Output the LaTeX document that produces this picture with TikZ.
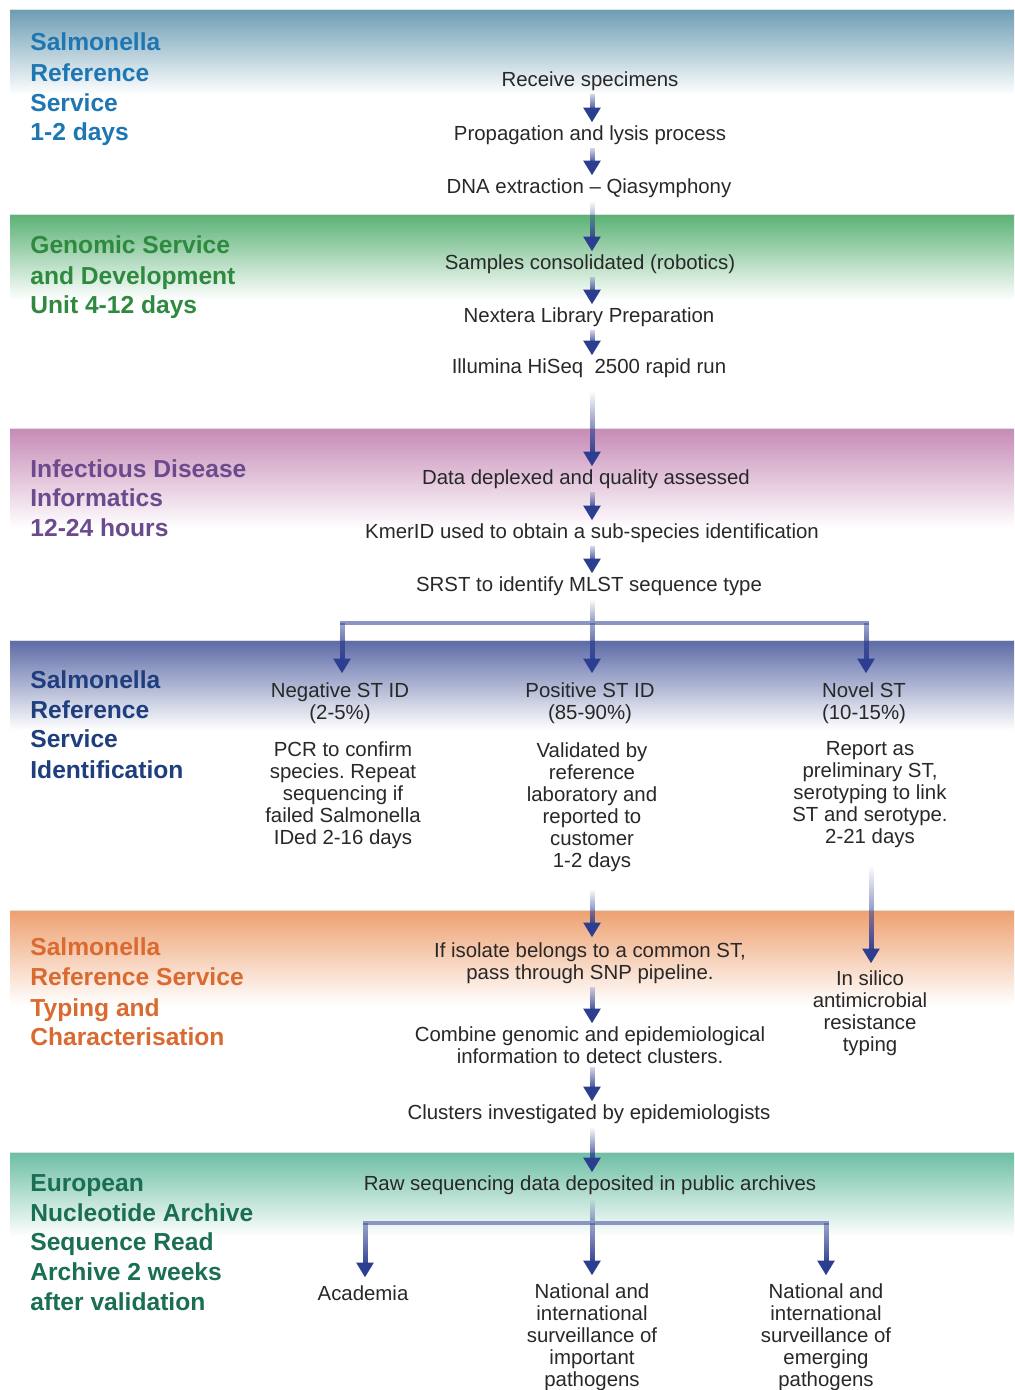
\documentclass[tikz,border=0pt]{standalone}
\usepackage{fontspec}
\setmainfont{Liberation Sans}
\usetikzlibrary{fadings,calc}
\frenchspacing
\definecolor{ablue}{RGB}{44,62,144}
\definecolor{bodytext}{RGB}{40,40,40}
\definecolor{bandA}{RGB}{110,158,180}
\definecolor{bandB}{RGB}{92,178,118}
\definecolor{bandC}{RGB}{198,138,182}
\definecolor{bandD}{RGB}{92,106,166}
\definecolor{bandE}{RGB}{238,160,112}
\definecolor{bandF}{RGB}{108,190,164}
\definecolor{hA}{RGB}{30,118,178}
\definecolor{hB}{RGB}{45,138,62}
\definecolor{hC}{RGB}{108,74,142}
\definecolor{hD}{RGB}{30,62,126}
\definecolor{hE}{RGB}{218,106,48}
\definecolor{hF}{RGB}{26,110,84}
\tikzfading[name=arrfade, top color=transparent!100, bottom color=transparent!0]
\tikzfading[name=shortfade, top color=transparent!80, bottom color=transparent!0]
\tikzfading[name=legfade, top color=transparent!55, bottom color=transparent!0]
\tikzfading[name=stemfade, top color=transparent!100, bottom color=transparent!45]
\newcommand{\farrow}[3][arrfade]{%
  \fill[ablue, path fading=#1] let \p1=(#2), \p2=(#3) in (\x1-1.25pt,\y1) rectangle (\x1+1.25pt,\y2+5pt);
  \fill[ablue] let \p1=(#2), \p2=(#3) in (\x1,\y2) -- (\x1-4.4pt,\y2+7.2pt) -- (\x1+4.4pt,\y2+7.2pt) -- cycle;
}
\newcommand{\fstem}[2]{%
  \fill[ablue, path fading=stemfade] let \p1=(#1), \p2=(#2) in (\x1-1.25pt,\y1) rectangle (\x1+1.25pt,\y2);
}
\begin{document}
\begin{tikzpicture}[x=0.5pt,y=-0.5pt,
  body/.style={font=\fontsize{10.2}{11}\selectfont, text=bodytext, inner sep=1.5pt, align=center},
  head/.style={font=\fontsize{12.3}{15}\selectfont\bfseries, inner sep=0pt, anchor=base west},
  bar/.style={ablue!55, line width=2.4pt}]
\useasboundingbox (0,0) rectangle (1014,1390);
\fill[white] (0,0) rectangle (1014,1390);
% bands
\foreach \t/\h/\c in {10/85/bandA, 215/85/bandB, 428/100/bandC, 640/90/bandD, 910/95/bandE, 1152/85/bandF} {
  \shade[top color=\c, bottom color=white] (10,\t) rectangle (1014,\t+\h);
  \draw[gray!25, line width=0.5pt] (10,\t) -- (1014,\t);
}
% headers
\node[head, text=hA] (hAa) at (30,51) {Salmonella};
\node[head, text=hA] (hAb) at (30,82) {Reference};
\node[head, text=hA] (hAc) at (30,112) {Service};
\node[head, text=hA] (hAd) at (30,141) {1-2 days};
\node[head, text=hB] (hBa) at (30,254) {Genomic Service};
\node[head, text=hB] (hBb) at (30,285) {and Development};
\node[head, text=hB] (hBc) at (30,314) {Unit 4-12 days};
\node[head, text=hC] (hCa) at (30,477) {Infectious Disease};
\node[head, text=hC] (hCb) at (30,506) {Informatics};
\node[head, text=hC] (hCc) at (30,536) {12-24 hours};
\node[head, text=hD] (hDa) at (30,688) {Salmonella};
\node[head, text=hD] (hDb) at (30,718) {Reference};
\node[head, text=hD] (hDc) at (30,747) {Service};
\node[head, text=hD] (hDd) at (30,778) {Identification};
\node[head, text=hE] (hEa) at (30,955) {Salmonella};
\node[head, text=hE] (hEb) at (30,985) {Reference Service};
\node[head, text=hE] (hEc) at (30,1016) {Typing and};
\node[head, text=hE] (hEd) at (30,1045) {Characterisation};
\node[head, text=hF] (hFa) at (30,1191) {European};
\node[head, text=hF] (hFb) at (30,1221) {Nucleotide Archive};
\node[head, text=hF] (hFc) at (30,1250) {Sequence Read};
\node[head, text=hF] (hFd) at (30,1280) {Archive 2 weeks};
\node[head, text=hF] (hFe) at (30,1310) {after validation};
% body
\node[body] (r1) at (590,81) {Receive specimens};
\node[body] (r2) at (590,135) {Propagation and lysis process};
\node[body] (r3) at (589,188) {DNA extraction -- Qiasymphony};
\node[body] (g1) at (590,264) {Samples consolidated (robotics)};
\node[body] (g2) at (589,317) {Nextera Library Preparation};
\node[body] (g3) at (589,368) {Illumina HiSeq \ 2500 rapid run};
\node[body] (i1) at (586,479) {Data deplexed and quality assessed};
\node[body] (i2) at (592,533) {KmerID used to obtain a sub-species identification};
\node[body] (i3) at (589,586) {SRST to identify MLST sequence type};
\node[body] (negh) at (340,703) {Negative ST ID\\(2-5\%)};
\node[body] (negd) at (343,795) {PCR to confirm\\species. Repeat\\sequencing if\\failed Salmonella\\IDed 2-16 days};
\node[body] (posh) at (590,703) {Positive ST ID\\(85-90\%)};
\node[body] (posd) at (592,807) {Validated by\\reference\\laboratory and\\reported to\\customer\\1-2 days};
\node[body] (novh) at (864,703) {Novel ST\\(10-15\%)};
\node[body] (novd) at (870,795) {Report as\\preliminary ST,\\serotyping to link\\ST and serotype.\\2-21 days};
\node[body] (o1) at (590,963) {If isolate belongs to a common ST,\\pass through SNP pipeline.};
\node[body] (o2) at (590,1045) {Combine genomic and epidemiological\\information to detect clusters.};
\node[body] (o3) at (589,1114) {Clusters investigated by epidemiologists};
\node[body] (amr) at (870,1013) {In silico\\antimicrobial\\resistance\\typing};
\node[body] (e1) at (590,1185) {Raw sequencing data deposited in public archives};
\node[body] (aca) at (363,1293) {Academia};
\node[body] (nat1) at (592,1337) {National and\\international\\surveillance of\\important\\pathogens};
\node[body] (nat2) at (826,1337) {National and\\international\\surveillance of\\emerging\\pathogens};
% connectors
\farrow[shortfade]{$(r1.south)+(2,0)$}{r2.north}
\farrow[shortfade]{$(r2.south)+(2,0)$}{r3.north}
\farrow{$(r3.south)+(3,0)$}{g1.north}
\farrow[shortfade]{$(g1.south)+(2,0)$}{g2.north}
\farrow[shortfade]{$(g2.south)+(3,0)$}{g3.north}
\farrow{$(g3.south)+(3,10)$}{i1.north}
\farrow[shortfade]{$(i1.south)+(6,0)$}{i2.north}
\farrow[shortfade]{i2.south}{i3.north}
% branch 1
\coordinate (b1c) at (592,623);
\coordinate (b1l) at (342,623);
\coordinate (b1r) at (866,623);
\fstem{$(i3.south)+(3,0)$}{b1c}
\draw[bar] ($(b1l)+(-1.25pt,0)$) -- ($(b1r)+(1.25pt,0)$);
\farrow[legfade]{b1l}{$(b1l |- negh.north)+(0,-6)$}
\farrow[legfade]{b1c}{$(b1c |- posh.north)+(0,-6)$}
\farrow[legfade]{b1r}{$(b1r |- novh.north)+(0,-6)$}
% lower flow
\farrow{$(posd.south)+(0,14)$}{$(o1.north)+(2,-2)$}
\farrow{$(novd.south)+(1,14)$}{$(amr.north)+(1,-4)$}
\farrow[shortfade]{$(o1.south)+(2,0)$}{o2.north}
\farrow[shortfade]{$(o2.south)+(2,0)$}{o3.north}
\farrow{$(o3.south)+(3,0)$}{e1.north}
% branch 2
\coordinate (b2c) at (592,1223);
\coordinate (b2l) at (365,1223);
\coordinate (b2r) at (826,1223);
\fstem{$(e1.south)+(2,0)$}{b2c}
\draw[bar] ($(b2l)+(-1.25pt,0)$) -- ($(b2r)+(1.25pt,0)$);
\farrow[legfade]{b2l}{$(b2l |- aca.north)+(0,-5)$}
\farrow[legfade]{b2c}{$(b2c |- nat1.north)+(0,-5)$}
\farrow[legfade]{b2r}{$(b2r |- nat2.north)+(0,-5)$}
\end{tikzpicture}
\end{document}
